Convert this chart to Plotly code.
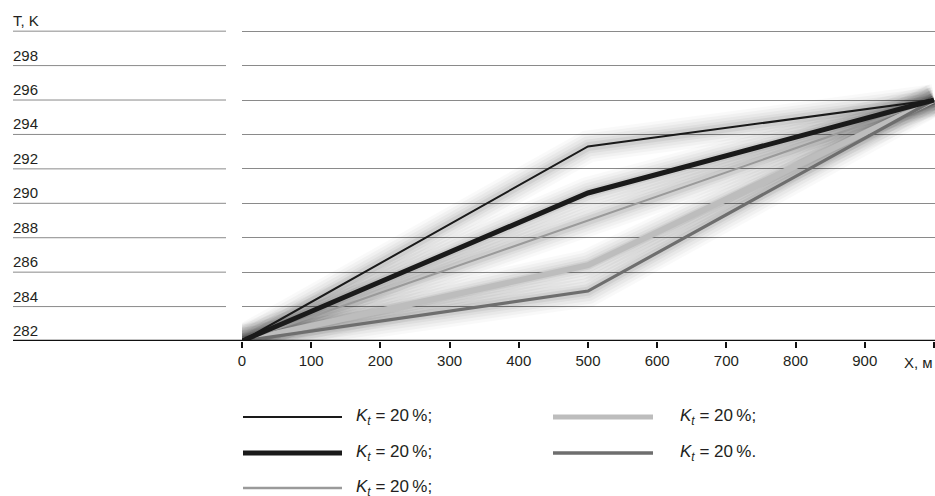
import plotly.graph_objects as go

# ---- data ----
x_vals = [0, 500, 1000]
t_thin_black = [282.0, 293.3, 296.0]
t_thick_black = [282.0, 290.6, 296.0]
t_thin_gray = [282.0, 289.0, 296.0]
t_light_gray = [282.0, 286.4, 296.0]
t_dark_gray = [282.0, 284.9, 296.0]

y_tick_vals = [282, 284, 286, 288, 290, 292, 294, 296, 298, 300]
y_tick_text = ["282", "284", "286", "288", "290", "292", "294", "296", "298", "T, K"]
x_tick_vals = [0, 100, 200, 300, 400, 500, 600, 700, 800, 900, 1000]
x_tick_text = ["0", "100", "200", "300", "400", "500", "600", "700", "800", "900", ""]
x_axis_title = "X, м"

legend_labels = [
    "<i>K</i><sub><i>t</i></sub> = 20\u2009%;",
    "<i>K</i><sub><i>t</i></sub> = 20\u2009%;",
    "<i>K</i><sub><i>t</i></sub> = 20\u2009%;",
    "<i>K</i><sub><i>t</i></sub> = 20\u2009%;",
    "<i>K</i><sub><i>t</i></sub> = 20\u2009%.",
]

FONT = "Liberation Sans, Arial, sans-serif"
TXT = "#231f20"
GRID = "#8a8a8a"
FS = 15
FS_LEG = 17

# ---- geometry helpers (pixels -> paper) ----
W, H = 935, 496
ML, MR, MT, MB = 242, 0, 26, 155
PW, PH = W - ML - MR, H - MT - MB


def px(x):
    return (x - ML) / PW


def py(y):
    return (H - MB - y) / PH


series = [
    (t_light_gray, "#bdbdbd", 6),
    (t_dark_gray, "#6e6e6e", 3.2),
    (t_thin_gray, "#9a9a9a", 2),
    (t_thick_black, "#1a1a1a", 5),
    (t_thin_black, "#1a1a1a", 2),
]

fig = go.Figure()

# soft shadow under the lines
for ys, _, _ in series:
    for w, a in [(32, 0.025), (26, 0.03), (20, 0.035), (14, 0.045), (9, 0.06)]:
        fig.add_trace(go.Scatter(
            x=x_vals, y=ys, mode="lines",
            line=dict(color=f"rgba(0,0,0,{a})", width=w),
            hoverinfo="skip", showlegend=False,
        ))

for ys, c, w in series:
    fig.add_trace(go.Scatter(
        x=x_vals, y=ys, mode="lines",
        line=dict(color=c, width=w),
        hoverinfo="skip", showlegend=False,
    ))

shapes = []
annotations = []

# left grid segments and y labels
for v, t in zip(y_tick_vals, y_tick_text):
    if v != 282:
        shapes.append(dict(type="line", xref="paper", yref="y",
                           x0=px(13), x1=px(226), y0=v, y1=v,
                           line=dict(color=GRID, width=1)))
    annotations.append(dict(xref="paper", yref="y", x=px(11), y=v,
                            xanchor="left", yanchor="bottom", yshift=0,
                            text=t, showarrow=False,
                            font=dict(family=FONT, size=FS, color=TXT)))

# baseline axis line
shapes.append(dict(type="line", xref="paper", yref="y",
                   x0=px(13), x1=1, y0=282, y1=282,
                   line=dict(color="#111111", width=2.5)))

annotations.append(dict(xref="paper", yref="paper", x=1, y=0,
                        xanchor="right", yanchor="top", yshift=-11,
                        text=x_axis_title, showarrow=False,
                        font=dict(family=FONT, size=FS, color=TXT)))

# legend
legend_pos = [
    (243, 342, 354, 417, "#1a1a1a", 2),
    (553, 653, 678, 417, "#bdbdbd", 5),
    (243, 342, 354, 453, "#1a1a1a", 5),
    (553, 653, 678, 453, "#6e6e6e", 3.5),
    (243, 342, 354, 488, "#9a9a9a", 2.5),
]
label_order = [0, 3, 1, 4, 2]
for (x0, x1, xt, yy, c, w), li in zip(legend_pos, label_order):
    shapes.append(dict(type="line", xref="paper", yref="paper",
                       x0=px(x0), x1=px(x1), y0=py(yy), y1=py(yy),
                       line=dict(color=c, width=w)))
    annotations.append(dict(xref="paper", yref="paper", x=px(xt), y=py(yy),
                            xanchor="left", yanchor="middle",
                            text=legend_labels[li], showarrow=False,
                            font=dict(family=FONT, size=FS_LEG, color=TXT)))

fig.update_layout(
    width=W, height=H,
    margin=dict(l=ML, r=MR, t=MT, b=MB),
    paper_bgcolor="white", plot_bgcolor="white",
    showlegend=False,
    shapes=shapes, annotations=annotations,
    xaxis=dict(range=[0, 1001.5], tickvals=x_tick_vals, ticktext=x_tick_text,
               ticks="outside", ticklen=6, tickwidth=2, tickcolor="#111111",
               showgrid=False, zeroline=False, showline=False,
               tickfont=dict(family=FONT, size=FS, color=TXT), fixedrange=True),
    yaxis=dict(range=[282, 300.3], tickvals=y_tick_vals[1:], showticklabels=False,
               showgrid=True, gridcolor=GRID, gridwidth=1,
               zeroline=False, showline=False, ticks="", fixedrange=True),
)

fig.write_html(
    "out.html",
    config={"displayModeBar": False},
    post_script="document.body.style.margin='0';document.body.style.padding='0';",
)
